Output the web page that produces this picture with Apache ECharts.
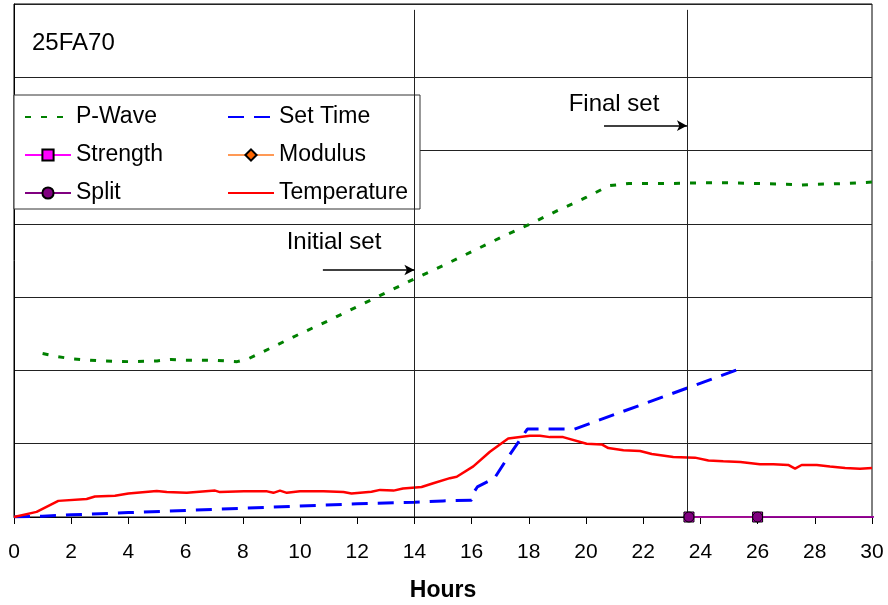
<!DOCTYPE html>
<html>
<head>
<meta charset="utf-8">
<script src="https://cdn.jsdelivr.net/npm/echarts@6/dist/echarts.min.js"></script>
<style>
html,body{margin:0;padding:0;background:#fff;}
#chart{width:888px;height:605px;}
</style>
</head>
<body>
<div id="chart"></div>
<script>
// ---- data (hours, arbitrary y units 0..7) ----
const xTicks = [0, 30, 2];
const pwaveHours = [1.0,1.5,2,3,4,5,5.5,6,7,7.8,8.2,9,10,11,12,13,14,15,16,17,18,19,20,20.8,21.5,22,23,24,25,26,27,27.5,28,29,30];
const pwaveVals  = [2.23,2.19,2.16,2.13,2.12,2.13,2.15,2.14,2.14,2.12,2.16,2.31,2.50,2.68,2.87,3.06,3.25,3.43,3.62,3.81,3.99,4.18,4.36,4.52,4.55,4.55,4.55,4.56,4.56,4.55,4.54,4.53,4.54,4.55,4.57];

const setHours = [0,1,2,4,6,8,10,12,14,15,16,16.1,16.2,16.8,17.23,17.95,19.6,25.3];
const setVals  = [0,0.01,0.03,0.06,0.09,0.12,0.15,0.18,0.2,0.22,0.23,0.35,0.41,0.53,0.79,1.2,1.2,2.01];

const tempHours = [0,0.79,1.55,2.54,2.83,3.53,4.0,4.99,5.34,6.04,7.03,7.2,8.04,8.85,9.07,9.3,9.54,10.0,10.82,11.52,11.8,12.5,12.8,13.27,13.6,14.25,14.66,15.24,15.48,16.06,16.64,17.28,18.04,18.39,18.74,19.2,20.02,20.55,20.78,21.31,21.89,22.3,23.05,23.81,24.28,24.8,25.4,26.08,26.55,27.07,27.31,27.54,28.07,28.53,29.06,29.58,30];
const tempVals  = [0,0.07,0.22,0.245,0.28,0.29,0.32,0.355,0.34,0.33,0.36,0.34,0.35,0.35,0.33,0.36,0.33,0.35,0.35,0.34,0.32,0.345,0.37,0.36,0.39,0.41,0.46,0.53,0.55,0.69,0.89,1.07,1.11,1.11,1.09,1.09,1.0,0.99,0.94,0.91,0.9,0.86,0.82,0.81,0.77,0.76,0.75,0.72,0.72,0.71,0.66,0.71,0.71,0.69,0.67,0.66,0.67];

const strengthHours = [23.6, 26, 48];
const strengthVals  = [0, 0, 0];
const modulusHours  = [23.6, 26];
const modulusVals   = [0, 0];
const splitHours    = [23.6, 26, 48];
const splitVals     = [0, 0, 0];

const setMarkers = [14, 23.53];        // initial / final set (hours)
const setMarkTop = 6.92;
const annoLabels = ['Initial set', 'Final set'];
const annoTextPos = [[11.19, 3.75], [20.98, 5.63]];
const arrowFrom   = [[10.8, 3.37], [20.63, 5.34]];

const zip = (a, b) => a.map((h, i) => [h, b[i]]);
const FONT = "'Liberation Sans', Arial, sans-serif";
const noSym = {color: 'transparent', borderWidth: 0, opacity: 0};

const chart = echarts.init(document.getElementById('chart'), null, {renderer: 'canvas'});

const option = {
  animation: false,
  backgroundColor: '#fff',
  title: {
    text: '25FA70', left: 27, top: 26,
    textStyle: {fontFamily: FONT, fontSize: 24, fontWeight: 'normal', color: '#000'}
  },
  grid: {left: 14, right: 16, top: 4, bottom: 88, show: true, borderColor: '#000', borderWidth: 1,
         backgroundColor: 'transparent', containLabel: false, outerBoundsMode: 'none'},
  legend: {
    left: 14, top: 95, width: 430, orient: 'horizontal',
    itemWidth: 46, itemHeight: 14, itemGap: 10,
    padding: [8, 0, 2, 10],
    backgroundColor: '#fff', borderColor: '#333', borderWidth: 1, borderRadius: 0,
    textStyle: {fontFamily: FONT, fontSize: 23, color: '#000', width: 141, lineHeight: 28},
    data: [
      {name: 'P-Wave', itemStyle: noSym},
      {name: 'Set Time', itemStyle: noSym},
      {name: 'Strength'},
      {name: 'Modulus'},
      {name: 'Split'},
      {name: 'Temperature', itemStyle: noSym}
    ]
  },
  xAxis: {
    type: 'value', min: xTicks[0], max: xTicks[1], interval: xTicks[2],
    name: 'Hours', nameLocation: 'middle', nameGap: 62,
    nameTextStyle: {fontFamily: FONT, fontSize: 23, fontWeight: 'bold', color: '#000'},
    axisLine: {show: true, onZero: false, lineStyle: {color: '#000', width: 1}},
    axisTick: {show: true, length: 7, inside: false, lineStyle: {color: '#000'}},
    axisLabel: {fontFamily: FONT, fontSize: 21, color: '#000', margin: 25},
    splitLine: {show: false}
  },
  yAxis: {
    type: 'value', min: 0, max: 7, interval: 1,
    axisLine: {show: true, lineStyle: {color: '#000'}},
    axisTick: {show: false},
    axisLabel: {show: false},
    splitLine: {show: true, lineStyle: {color: '#222', width: 1}}
  },
  series: [
    {
      name: 'P-Wave', type: 'line', data: zip(pwaveHours, pwaveVals), symbol: 'none', z: 3,
      itemStyle: {color: '#008000'},
      lineStyle: {color: '#008000', width: 3, type: [6, 10]}
    },
    {
      name: 'Set Time', type: 'line', data: zip(setHours, setVals), symbol: 'none', z: 3,
      itemStyle: {color: '#0000FF'},
      lineStyle: {color: '#0000FF', width: 3, type: [16, 10]}
    },
    {
      name: 'Strength', type: 'line', data: zip(strengthHours, strengthVals), z: 4,
      symbol: 'rect', symbolSize: 10, showAllSymbol: true,
      itemStyle: {color: '#FF00FF', borderColor: '#000', borderWidth: 1},
      lineStyle: {color: '#FF00FF', width: 1.5}
    },
    {
      name: 'Modulus', type: 'line', data: zip(modulusHours, modulusVals), z: 3,
      symbol: 'diamond', symbolSize: 10,
      itemStyle: {color: '#FF6600', borderColor: '#000', borderWidth: 1},
      lineStyle: {color: '#FF9955', width: 1.5}
    },
    {
      name: 'Split', type: 'line', data: zip(splitHours, splitVals), z: 5,
      symbol: 'circle', symbolSize: 10,
      itemStyle: {color: '#800080', borderColor: '#000', borderWidth: 1},
      lineStyle: {color: '#800080', width: 1.5}
    },
    {
      name: 'Temperature', type: 'line', data: zip(tempHours, tempVals), symbol: 'none', z: 3,
      itemStyle: {color: '#FF0000'},
      lineStyle: {color: '#FF0000', width: 2.5}
    },
    {
      name: '_anno', type: 'line', data: [], symbol: 'none', silent: true, z: 6,
      markLine: {
        silent: true, animation: false,
        label: {show: false},
        data: [
          [{coord: [setMarkers[0], 0], symbol: 'none', lineStyle: {color: '#222', width: 1, type: 'solid'}},
           {coord: [setMarkers[0], setMarkTop], symbol: 'none'}],
          [{coord: [setMarkers[1], 0], symbol: 'none', lineStyle: {color: '#222', width: 1, type: 'solid'}},
           {coord: [setMarkers[1], setMarkTop], symbol: 'none'}],
          [{coord: arrowFrom[0], symbol: 'none', lineStyle: {color: '#000', width: 1.5, type: 'solid'}},
           {coord: [setMarkers[0], arrowFrom[0][1]], symbol: 'arrow', symbolSize: [8, 10]}],
          [{coord: arrowFrom[1], symbol: 'none', lineStyle: {color: '#000', width: 1.5, type: 'solid'}},
           {coord: [setMarkers[1], arrowFrom[1][1]], symbol: 'arrow', symbolSize: [8, 10]}]
        ]
      },
      markPoint: {
        silent: true, symbol: 'circle', symbolSize: 0,
        label: {show: true, position: 'inside', formatter: '{b}', fontFamily: FONT, fontSize: 24, color: '#000'},
        data: annoLabels.map((t, i) => ({name: t, coord: annoTextPos[i]}))
      }
    }
  ]
};
chart.setOption(option);
</script>
</body>
</html>
